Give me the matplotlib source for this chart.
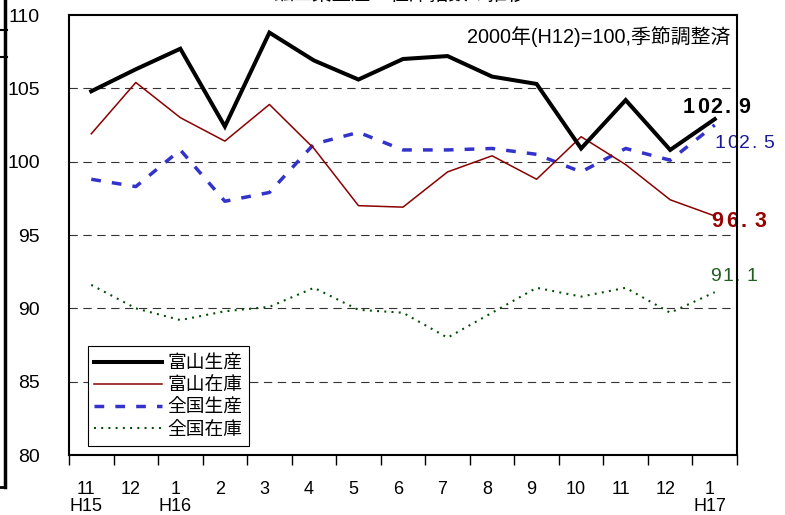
import matplotlib
matplotlib.use('Agg')
import matplotlib.pyplot as plt
import matplotlib.transforms as mtransforms
from matplotlib.lines import Line2D

plt.rcParams['font.family'] = ['Liberation Sans', 'Noto Sans CJK JP', 'DejaVu Sans']
plt.rcParams['lines.scale_dashes'] = False

# data (2000 = 100, seasonally adjusted), H15.11 - H17.1
months = ['11', '12', '1', '2', '3', '4', '5', '6', '7', '8', '9', '10', '11', '12', '1']
eras = ['H15', '', 'H16', '', '', '', '', '', '', '', '', '', '', '', 'H17']

toyama_prod = [104.8, 106.3, 107.7, 102.4, 108.8, 106.9, 105.6, 107.0, 107.2, 105.8, 105.3, 100.9, 104.2, 100.8, 102.9]
toyama_inv = [101.9, 105.4, 103.0, 101.4, 103.9, 100.9, 97.0, 96.9, 99.3, 100.4, 98.8, 101.7, 99.8, 97.4, 96.3]
zenkoku_prod = [98.8, 98.3, 100.8, 97.3, 97.9, 101.2, 102.0, 100.8, 100.8, 100.9, 100.5, 99.3, 100.9, 100.1, 102.5]
zenkoku_inv = [91.6, 90.0, 89.2, 89.8, 90.1, 91.4, 89.9, 89.7, 88.0, 89.7, 91.4, 90.8, 91.4, 89.7, 91.1]

labels = ['富山生産', '富山在庫', '全国生産', '全国在庫']

fig = plt.figure(figsize=(7.85, 5.15), dpi=100)
ax = fig.add_axes([69/785, 1-455/515, 668/785, 440/515])

x = list(range(len(months)))
ax.plot(x, toyama_prod, color='black', lw=2.9, solid_joinstyle='miter', zorder=5, label=labels[0])
ax.plot(x, toyama_inv, color='#8b0000', lw=1.1, zorder=4, label=labels[1])
ax.plot(x, zenkoku_prod, color='#3333cc', lw=2.5, dashes=(7, 8), zorder=3, label=labels[2])
ax.plot(x, zenkoku_inv, color='#004d00', lw=1.5, dashes=(1.4, 3.8), zorder=3, label=labels[3])

ax.set_xlim(-0.5, len(months) - 0.5)
ax.set_ylim(80, 110)
ax.set_yticks(range(80, 111, 5))
ax.tick_params(axis='y', length=0, pad=21, labelsize=14)
for y in range(85, 110, 5):
    ax.axhline(y, color='#333333', lw=0.8, dashes=(6, 4), zorder=1)

ax.set_xticks(x)
ax.set_xticklabels([m + '\n' + e for m, e in zip(months, eras)], linespacing=1.0)
ax.tick_params(axis='x', which='major', length=0, pad=19, labelsize=13)
ax.set_xticks([i - 0.5 for i in range(len(months) + 1)], minor=True)
ax.tick_params(axis='x', which='minor', length=7, width=1, direction='out')
shift = mtransforms.ScaledTranslation(-5/100, 0, fig.dpi_scale_trans)
for lab in ax.get_xticklabels():
    lab.set_transform(lab.get_transform() + shift)

for s in ax.spines.values():
    s.set_linewidth(1.5)
    s.set_zorder(10)

ax.text(0.99, 0.975, '2000年(H12)=100,季節調整済', transform=ax.transAxes,
        ha='right', va='top', fontsize=14.3, family=['Liberation Sans', 'Noto Sans CJK JP'])

leg = ax.legend(loc='lower left', bbox_to_anchor=(0.028, 0.02), borderaxespad=0,
                frameon=True, fancybox=False, edgecolor='black',
                framealpha=1, handlelength=3.6, handletextpad=0.3, labelspacing=0.06,
                borderpad=0.35, prop={'family': ['Noto Sans CJK JP'], 'size': 13.5})
leg.get_frame().set_linewidth(0.8)
leg.set_zorder(8)


def end_label(val, text, dx, dy, adv, size, color, bold):
    # draw the end value with wide letter spacing
    for j, ch in enumerate(text):
        ax.annotate(ch, xy=(len(months) - 1, val), xytext=(dx + j*adv, dy),
                    textcoords='offset pixels', ha='left', va='center',
                    fontsize=size, color=color, fontweight='bold' if bold else 'normal',
                    zorder=2, annotation_clip=False)


end_label(toyama_prod[-1], '%.1f' % toyama_prod[-1], -32, 12, 14.0, 15.5, 'black', True)
end_label(zenkoku_prod[-1], '%.1f' % zenkoku_prod[-1], 0, -19, 12.2, 14, '#1a1a99', False)
end_label(toyama_inv[-1], '%.1f' % toyama_inv[-1], -3, -6, 14.3, 15.5, '#990000', True)
end_label(zenkoku_inv[-1], '%.1f' % zenkoku_inv[-1], -5, 16, 12.3, 14, '#1f5f1f', False)

# clipped title at the top edge and the neighbouring frame on the left
fig.text(0.51, 1.0, '鉱工業生産・在庫指数の推移', ha='center', va='baseline', fontsize=14,
         family=['Noto Sans CJK JP'])
fig.add_artist(Line2D([5/785, 5/785], [1, 1 - 487/515], transform=fig.transFigure, color='black', lw=2.5))
fig.add_artist(Line2D([0, 5/785], [1 - 487/515, 1 - 487/515], transform=fig.transFigure, color='black', lw=2))
for yy in (30, 57):
    fig.add_artist(Line2D([0, 7/785], [1 - yy/515, 1 - yy/515], transform=fig.transFigure, color='black', lw=1.5))

fig.savefig('out.png', dpi=100)
